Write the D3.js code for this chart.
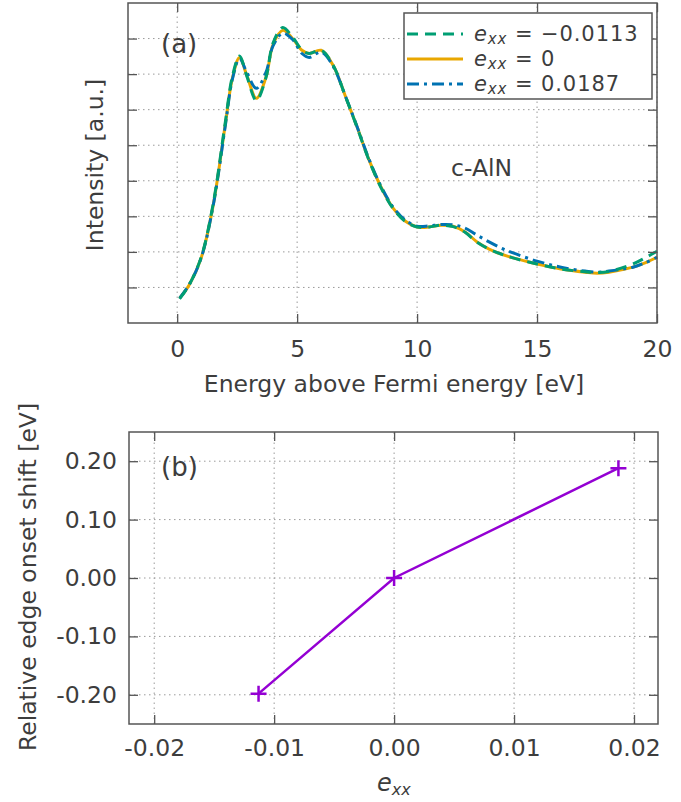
<!DOCTYPE html>
<html>
<head>
<meta charset="utf-8">
<script src="https://cdn.jsdelivr.net/npm/d3@7"></script>
<style>
  body { margin: 0; background: #fff; }
  svg text { font-family: "DejaVu Sans", sans-serif; fill: #3d3d3d; }
</style>
</head>
<body>
<div id="chart"></div>
<script>
// energies above the Fermi level [eV]
const energy = [0.1, 0.5, 1.0, 1.5, 2.0, 2.3, 2.6, 2.9, 3.3, 3.7, 4.0, 4.4, 4.8, 5.2, 5.5, 6.0, 6.5, 7.0, 7.5, 8.0,
                8.5, 9.0, 9.5, 10.0, 10.5, 11.0, 11.5, 12.0, 12.5, 13.0, 13.5, 14.0, 15.0, 16.0, 17.0, 17.5, 18.0, 19.0, 19.5, 20.0];
// spectra (arbitrary units) for the three strains
const intensityNeg = [0.68, 1.07, 1.85, 3.35, 5.62, 6.93, 7.51, 6.95, 6.26, 6.90, 7.88, 8.31, 8.05, 7.68, 7.58, 7.67, 7.25, 6.40, 5.50, 4.57,
                      3.80, 3.22, 2.86, 2.70, 2.70, 2.75, 2.71, 2.55, 2.27, 2.08, 1.94, 1.83, 1.66, 1.52, 1.44, 1.42, 1.45, 1.66, 1.83, 2.02];
const intensityZero = [0.70, 1.07, 1.83, 3.31, 5.56, 6.88, 7.47, 6.97, 6.32, 6.91, 7.84, 8.23, 8.01, 7.67, 7.58, 7.67, 7.25, 6.40, 5.51, 4.58,
                       3.82, 3.23, 2.87, 2.70, 2.70, 2.75, 2.72, 2.56, 2.28, 2.08, 1.94, 1.83, 1.66, 1.52, 1.43, 1.40, 1.43, 1.57, 1.69, 1.85];
const intensityPos = [0.70, 1.08, 1.83, 3.30, 5.52, 6.85, 7.44, 7.05, 6.60, 7.05, 7.80, 8.15, 7.98, 7.58, 7.47, 7.62, 7.22, 6.40, 5.52, 4.60,
                      3.84, 3.26, 2.90, 2.72, 2.73, 2.77, 2.76, 2.67, 2.47, 2.28, 2.11, 1.97, 1.74, 1.57, 1.46, 1.43, 1.46, 1.57, 1.69, 1.85];
const seriesLabels = ["\u22120.0113", "0", "0.0187"];
const seriesColors = ["#009e73", "#e9a700", "#0072b2"];
const seriesDash = ["11,7", null, "12,5,3,5"];

// edge onset shift vs strain
const strain = [-0.0113, 0.0, 0.0187];
const onsetShift = [-0.198, 0.0, 0.188];

const xTicksA = [0, 5, 10, 15, 20];
const yTicksA = [1, 2, 3, 4, 5, 6, 7, 8];
const xTicksB = [-0.02, -0.01, 0.0, 0.01, 0.02];
const yTicksB = [-0.2, -0.1, 0.0, 0.1, 0.2];

const W = 681, H = 802;
const svg = d3.select("#chart").append("svg").attr("width", W).attr("height", H);

const axisColor = "#555";
const gridColor = "#9a9a9a";
const fs = 23.5;

function grid(g, xs, ys, xTicks, yTicks) {
    //dotted grid
    xTicks.forEach(t => g.append("line").attr("x1", xs(t)).attr("x2", xs(t))
        .attr("y1", ys.range()[0]).attr("y2", ys.range()[1])
        .attr("stroke", gridColor).attr("stroke-width", 1).attr("stroke-dasharray", "1.5,3.5"));
    yTicks.forEach(t => g.append("line").attr("y1", ys(t)).attr("y2", ys(t))
        .attr("x1", xs.range()[0]).attr("x2", xs.range()[1])
        .attr("stroke", gridColor).attr("stroke-width", 1).attr("stroke-dasharray", "1.5,3.5"));
}

function frame(g, xs, ys, xTicks, yTicks, xfmt, yfmt, xpad, ypad) {
    const [x0, x1] = xs.range();
    const [y0, y1] = ys.range();
    const bottom = g.append("g").attr("transform", `translate(0,${y0})`)
        .call(d3.axisBottom(xs).tickValues(xTicks).tickSize(-9).tickSizeOuter(0).tickPadding(xpad).tickFormat(xfmt));
    const top = g.append("g").attr("transform", `translate(0,${y1})`)
        .call(d3.axisTop(xs).tickValues(xTicks).tickSize(-9).tickSizeOuter(0).tickFormat(""));
    const left = g.append("g").attr("transform", `translate(${x0},0)`)
        .call(d3.axisLeft(ys).tickValues(yTicks).tickSize(-9).tickSizeOuter(0).tickPadding(ypad).tickFormat(yfmt));
    const right = g.append("g").attr("transform", `translate(${x1},0)`)
        .call(d3.axisRight(ys).tickValues(yTicks).tickSize(-9).tickSizeOuter(0).tickFormat(""));
    [bottom, top, left, right].forEach(a => {
        a.select(".domain").remove();
        a.selectAll("line").attr("stroke", axisColor).attr("stroke-width", 1.3);
        a.selectAll("text").attr("font-size", fs).attr("font-family", "DejaVu Sans, sans-serif").attr("fill", "#3d3d3d");
    });
    g.append("rect").attr("x", x0).attr("y", y1).attr("width", x1 - x0).attr("height", y0 - y1)
        .attr("fill", "none").attr("stroke", axisColor).attr("stroke-width", 1.5);
}

// ---------- panel (a) ----------
const xA = d3.scaleLinear().domain([-2.05, 20]).range([128, 657]);
const yA = d3.scaleLinear().domain([0, 9]).range([323, 3]);
const gA = svg.append("g");
grid(gA, xA, yA, xTicksA, yTicksA);

const lineA = d3.line().x(d => xA(d[0])).y(d => yA(d[1])).curve(d3.curveCatmullRom.alpha(0.5));
const allSeries = [intensityNeg, intensityZero, intensityPos];
// draw order: orange underneath, then blue, then green on top
[1, 2, 0].forEach(i => {
    gA.append("path").datum(energy.map((e, j) => [e, allSeries[i][j]]))
        .attr("d", lineA).attr("fill", "none")
        .attr("stroke", seriesColors[i]).attr("stroke-width", 3)
        .attr("stroke-dasharray", seriesDash[i]);
});
frame(gA, xA, yA, xTicksA, yTicksA, d3.format("d"), "", 17, 10);

gA.append("text").attr("x", 161).attr("y", 53).attr("font-size", 26).text("(a)");
gA.append("text").attr("x", 451).attr("y", 176).attr("font-size", fs).text("c-AlN");
gA.append("text").attr("x", 394).attr("y", 392).attr("text-anchor", "middle").attr("font-size", fs)
    .text("Energy above Fermi energy [eV]");
gA.append("text").attr("transform", "translate(103,165) rotate(-90)").attr("text-anchor", "middle")
    .attr("font-size", fs).text("Intensity [a.u.]");

// legend
const leg = gA.append("g");
leg.append("rect").attr("x", 404).attr("y", 13).attr("width", 248).attr("height", 86)
    .attr("fill", "#fff").attr("stroke", axisColor).attr("stroke-width", 1.5);
seriesLabels.forEach((lab, i) => {
    const yy = 34 + i * 25;
    leg.append("line").attr("x1", 407).attr("x2", 463).attr("y1", yy).attr("y2", yy)
        .attr("stroke", seriesColors[i]).attr("stroke-width", 3).attr("stroke-dasharray", seriesDash[i]);
    const t = leg.append("text").attr("x", 474).attr("y", yy + 7).attr("font-size", 21)
        .attr("letter-spacing", 0.9);
    t.append("tspan").attr("font-style", "italic").text("e");
    t.append("tspan").attr("font-style", "italic").attr("font-size", 15).attr("dy", 3).text("xx");
    t.append("tspan").attr("dy", -3).text(" = " + lab);
});

// ---------- panel (b) ----------
const xB = d3.scaleLinear().domain([-0.0221, 0.022]).range([129, 658]);
const yB = d3.scaleLinear().domain([-0.25, 0.25]).range([724, 432]);
const gB = svg.append("g");
grid(gB, xB, yB, xTicksB, yTicksB);

const fmt2 = d => d3.format(".2f")(d).replace("\u2212", "-");
const pts = strain.map((s, i) => [s, onsetShift[i]]);
gB.append("path").datum(pts)
    .attr("d", d3.line().x(d => xB(d[0])).y(d => yB(d[1])))
    .attr("fill", "none").attr("stroke", "#9400d3").attr("stroke-width", 2.5);
gB.selectAll(".plus").data(pts).enter().append("path")
    .attr("d", d => `M${xB(d[0]) - 8},${yB(d[1])}h16M${xB(d[0])},${yB(d[1]) - 8}v16`)
    .attr("stroke", "#9400d3").attr("stroke-width", 2.5);
frame(gB, xB, yB, xTicksB, yTicksB, fmt2, fmt2, 15, 12);

gB.append("text").attr("x", 161).attr("y", 476).attr("font-size", 26).text("(b)");
gB.append("text").attr("transform", "translate(36,577) rotate(-90)").attr("text-anchor", "middle")
    .attr("font-size", fs).text("Relative edge onset shift [eV]");
const xl = gB.append("text").attr("x", 377).attr("y", 791).attr("font-size", 24);
xl.append("tspan").attr("font-style", "italic").text("e");
xl.append("tspan").attr("font-style", "italic").attr("font-size", 16).attr("dy", 4).text("xx");
</script>
</body>
</html>
